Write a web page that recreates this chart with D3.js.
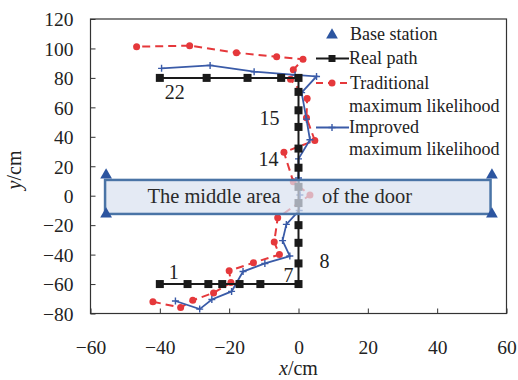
<!DOCTYPE html>
<html>
<head>
<meta charset="utf-8">
<script src="https://cdn.jsdelivr.net/npm/d3@7"></script>
<style>
  body { margin: 0; background: #fff; }
  text { font-family: "Liberation Serif", "Times New Roman", serif; fill: #222; }
</style>
</head>
<body>
<script>
'use strict';

// real path, numbered 1..22
const realX = [-40, -32, -26, -22, -17, -11, 0, 0, 0, 0, 0, 0, 0, 0, 0, 0, 0, 0, -5, -14.7, -26.5, -40];
const realY = [-60, -60, -60, -60, -60, -60, -60, -46, -32, -20, -5, 6, 19, 32, 46.7, 58, 70.5, 80, 80, 80, 80, 80];

// traditional maximum likelihood estimate
const tradX = [-42, -34, -30.5, -24.5, -19.5, -20, -13, -5.5, -7, -6, 3.3, -1.5, -4.2, 4.7, 2.3, 2.5, -2.3, -1.5, 1.3, -6.3, -17.9, -31.4, -46.7];
const tradY = [-72, -76, -71, -66, -59, -51, -45.5, -40, -31.5, -15, 0.5, 9.5, 29.5, 37.5, 53, 66, 79, 85.5, 92.6, 94.4, 97.1, 101.9, 101.2];

// improved maximum likelihood estimate
const impX = [-35.5, -28.5, -25, -19.3, -16, -9.7, -2.5, -4.6, -3.5, 0.2, 0.4, 0, 0, 3.3, 2.3, 0.9, 5.2, -1, -12.8, -25.5, -39.5];
const impY = [-71.5, -77, -70.5, -65, -51.5, -46, -41, -30.5, -19.5, -10, 0.5, 12, 25, 38, 52, 70, 81, 82, 84.2, 88.5, 86.5];

// base stations and the door area
const stationX = [-55.5, -55.5, 55.8, 55.8];
const stationY = [14, -12.5, 14, -12.5];
const doorX = [-55.8, 55.4];
const doorY = [-12.4, 10.7];

// point numbers written next to the real path
const pointLabels = [1, 7, 8, 14, 15, 22];

const xTicks = [-60, -40, -20, 0, 20, 40, 60];
const yTicks = [-80, -60, -40, -20, 0, 20, 40, 60, 80, 100, 120];

const W = 518, H = 380;
const margin = {top: 19, right: 11.5, bottom: 66.5, left: 90.5};

const svg = d3.select('body').append('svg')
  .attr('width', W)
  .attr('height', H);

const x = d3.scaleLinear().domain([-60, 60]).range([margin.left, W - margin.right]);
const y = d3.scaleLinear().domain([-80, 120]).range([H - margin.bottom, margin.top]);

const RED = '#e5383b', BLUE = '#3a5ba8', BLACK = '#1a1a1a';
const minus = d => d < 0 ? '\u2212' + (-d) : d;

// axes, ticks inside
svg.append('g')
  .attr('transform', 'translate(0,' + y(-80) + ')')
  .call(d3.axisBottom(x).tickValues(xTicks).tickSizeInner(-5).tickSizeOuter(0).tickFormat(minus))
  .call(g => g.select('.domain').remove())
  .call(g => g.selectAll('line').attr('stroke', '#333'))
  .call(g => g.selectAll('text').attr('dy', '37px').style('font-size', '19.5px'));

svg.append('g')
  .attr('transform', 'translate(' + x(-60) + ',0)')
  .call(d3.axisLeft(y).tickValues(yTicks).tickSizeInner(-5).tickSizeOuter(0).tickFormat(minus))
  .call(g => g.select('.domain').remove())
  .call(g => g.selectAll('line').attr('stroke', '#333'))
  .call(g => g.selectAll('text').attr('x', -17).attr('dy', '0.35em').style('font-size', '19.5px'));

svg.append('rect')
  .attr('x', x(-60))
  .attr('y', y(120))
  .attr('width', x(60) - x(-60))
  .attr('height', y(-80) - y(120))
  .attr('fill', 'none')
  .attr('stroke', '#333')
  .attr('stroke-width', 1.2);

// axis titles
const xt = svg.append('text')
  .attr('x', x(0))
  .attr('y', 375)
  .attr('text-anchor', 'middle')
  .style('font-size', '20px');
xt.append('tspan').style('font-style', 'italic').text('x');
xt.append('tspan').text('/cm');

const yt = svg.append('text')
  .attr('transform', 'translate(21,170) rotate(-90)')
  .attr('text-anchor', 'middle')
  .style('font-size', '20px');
yt.append('tspan').style('font-style', 'italic').text('y');
yt.append('tspan').text('/cm');

const line = d3.line().x(d => x(d[0])).y(d => y(d[1]));
const real = realX.map((v, i) => [v, realY[i]]);
const trad = tradX.map((v, i) => [v, tradY[i]]);
const imp = impX.map((v, i) => [v, impY[i]]);

// traditional ML
svg.append('path')
  .attr('d', line(trad))
  .attr('fill', 'none')
  .attr('stroke', RED)
  .attr('stroke-width', 2)
  .attr('stroke-dasharray', '8,5');
svg.selectAll('.trad').data(trad).enter().append('circle')
  .attr('cx', d => x(d[0]))
  .attr('cy', d => y(d[1]))
  .attr('r', 3.5)
  .attr('fill', RED);

// improved ML
svg.append('path')
  .attr('d', line(imp))
  .attr('fill', 'none')
  .attr('stroke', BLUE)
  .attr('stroke-width', 1.8);
function plus(g, px, py, s) {
  g.append('path')
    .attr('d', 'M' + (px - s) + ',' + py + 'H' + (px + s) + 'M' + px + ',' + (py - s) + 'V' + (py + s))
    .attr('stroke', BLUE)
    .attr('stroke-width', 1.4);
}
imp.forEach(d => plus(svg, x(d[0]), y(d[1]), 3.5));

// real path
svg.append('path')
  .attr('d', line(real))
  .attr('fill', 'none')
  .attr('stroke', BLACK)
  .attr('stroke-width', 2);
svg.selectAll('.sq').data(real).enter().append('rect')
  .attr('x', d => x(d[0]) - 4)
  .attr('y', d => y(d[1]) - 4)
  .attr('width', 8)
  .attr('height', 8)
  .attr('fill', BLACK);

// door area, half transparent over the paths
svg.append('rect')
  .attr('x', x(doorX[0]))
  .attr('y', y(doorY[1]))
  .attr('width', x(doorX[1]) - x(doorX[0]))
  .attr('height', y(doorY[0]) - y(doorY[1]))
  .attr('fill', '#d9e2f0')
  .attr('fill-opacity', 0.72)
  .attr('stroke', '#4a74a6')
  .attr('stroke-width', 2.5);

svg.append('text')
  .attr('x', 214)
  .attr('y', y(0))
  .attr('dy', '0.35em')
  .attr('text-anchor', 'middle')
  .style('font-size', '20.5px')
  .style('fill', '#2a2a2a')
  .text('The middle area');
svg.append('text')
  .attr('x', 367)
  .attr('y', y(0))
  .attr('dy', '0.35em')
  .attr('text-anchor', 'middle')
  .style('font-size', '20.5px')
  .style('fill', '#2a2a2a')
  .text('of the door');

// base stations
const tri = d3.symbol().type(d3.symbolTriangle).size(60);
stationX.forEach((v, i) => {
  svg.append('path')
    .attr('d', tri())
    .attr('transform', 'translate(' + x(v) + ',' + y(stationY[i]) + ')')
    .attr('fill', '#2c55a0');
});

// point numbers
const labelOffset = {1: [14, -12], 7: [-10, -9], 8: [26, -2], 14: [-30, 10], 15: [-29, -9], 22: [15, 14]};
pointLabels.forEach(n => {
  const p = real[n - 1];
  svg.append('text')
    .attr('x', x(p[0]) + labelOffset[n][0])
    .attr('y', y(p[1]) + labelOffset[n][1])
    .attr('dy', '0.35em')
    .attr('text-anchor', 'middle')
    .style('font-size', '20px')
    .text(n);
});

// legend
const lg = svg.append('g');
const lx0 = 316, lx1 = 349, lmid = 332;
const fs = '18px';
lg.append('path')
  .attr('d', tri())
  .attr('transform', 'translate(' + lmid + ',35)')
  .attr('fill', '#2c55a0');
lg.append('text').attr('x', 350).attr('y', 34).attr('dy', '0.35em').style('font-size', fs).text('Base station');

lg.append('line').attr('x1', lx0).attr('x2', lx1).attr('y1', 58.5).attr('y2', 58.5).attr('stroke', BLACK).attr('stroke-width', 2);
lg.append('rect').attr('x', lmid - 3.5).attr('y', 55).attr('width', 7).attr('height', 7).attr('fill', BLACK);
lg.append('text').attr('x', 349).attr('y', 58).attr('dy', '0.35em').style('font-size', fs).text('Real path');

lg.append('line').attr('x1', lx0).attr('x2', lx1).attr('y1', 83).attr('y2', 83).attr('stroke', RED).attr('stroke-width', 2).attr('stroke-dasharray', '7,5');
lg.append('circle').attr('cx', lmid).attr('cy', 83).attr('r', 3.5).attr('fill', RED);
lg.append('text').attr('x', 350).attr('y', 82.5).attr('dy', '0.35em').style('font-size', fs).text('Traditional');
lg.append('text').attr('x', 349).attr('y', 105.5).attr('dy', '0.35em').style('font-size', fs).text('maximum likelihood');

lg.append('line').attr('x1', lx0).attr('x2', lx1).attr('y1', 127.5).attr('y2', 127.5).attr('stroke', BLUE).attr('stroke-width', 1.8);
plus(lg, lmid, 127.5, 3.5);
lg.append('text').attr('x', 349).attr('y', 127).attr('dy', '0.35em').style('font-size', fs).text('Improved');
lg.append('text').attr('x', 349).attr('y', 149).attr('dy', '0.35em').style('font-size', fs).text('maximum likelihood');
</script>
</body>
</html>
